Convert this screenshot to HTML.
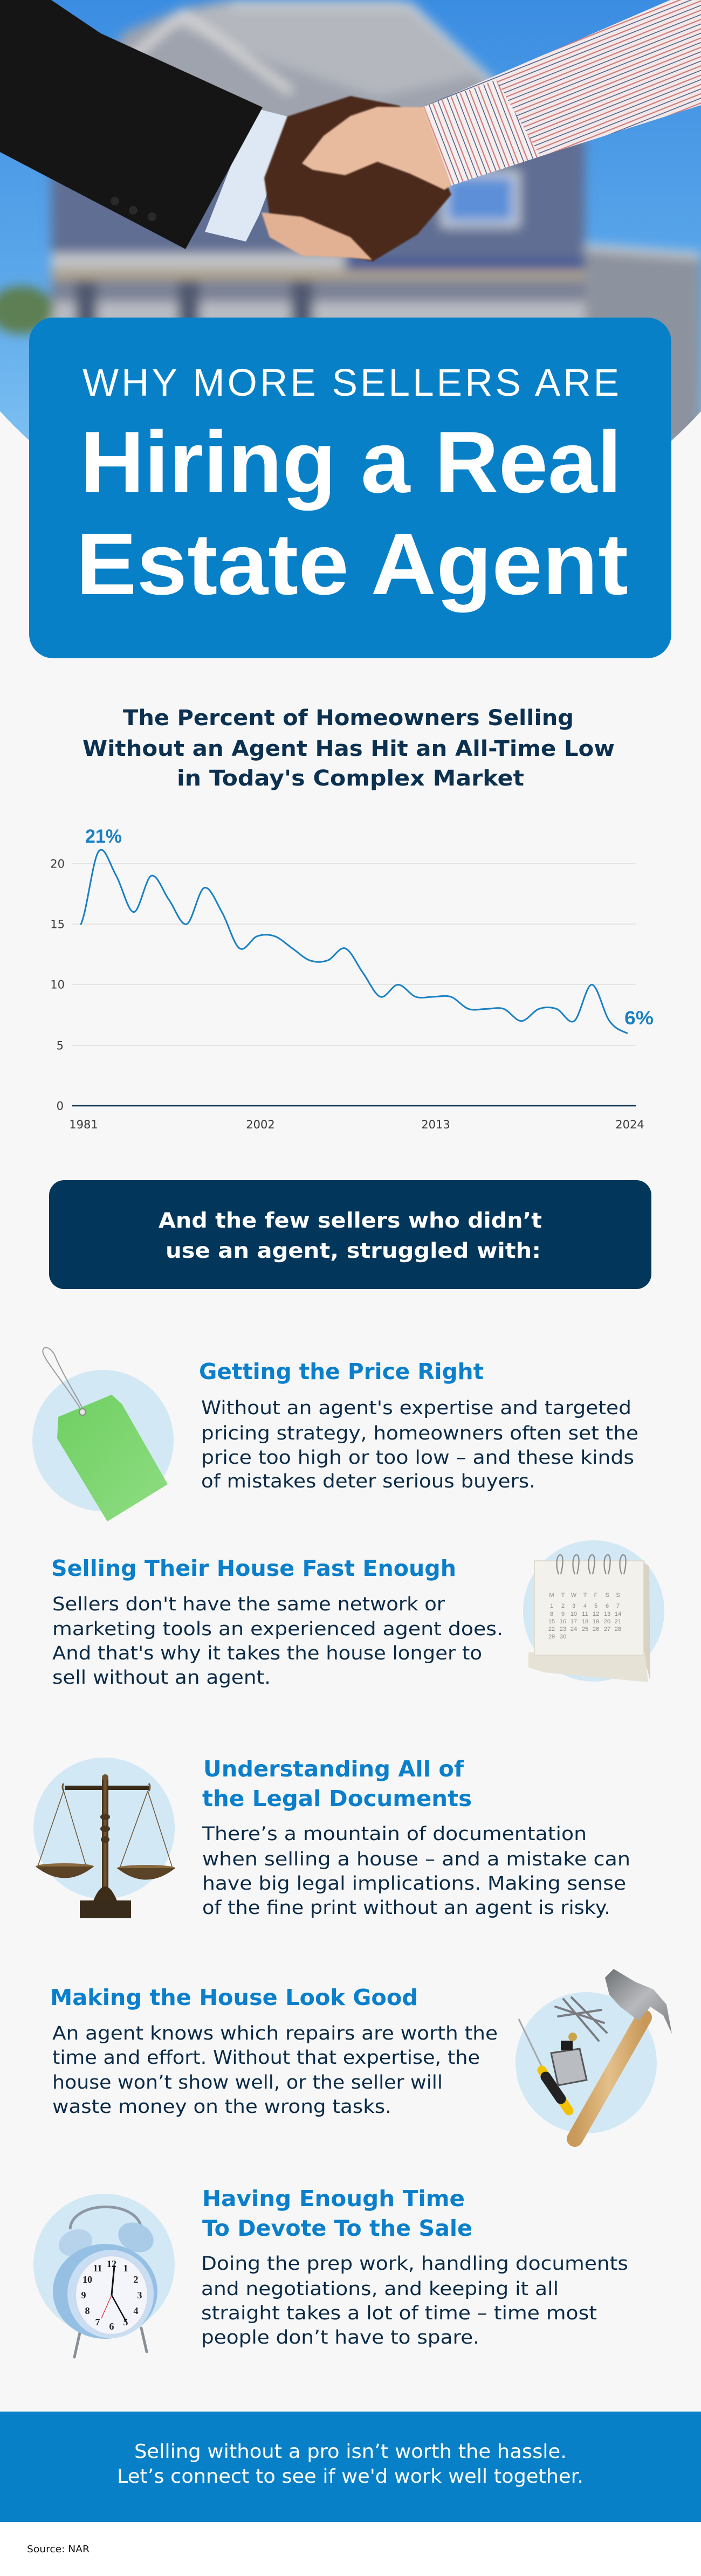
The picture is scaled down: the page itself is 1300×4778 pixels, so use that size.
<!DOCTYPE html>
<html>
<head>
<meta charset="utf-8">
<style>
html,body{margin:0;padding:0;background:#f7f7f7}
svg{display:block}
.h{font-family:"DejaVu Sans","Liberation Sans",sans-serif;font-weight:bold;font-size:41px;fill:#0a7fcb}
.b{font-family:"DejaVu Sans","Liberation Sans",sans-serif;font-size:34.5px;fill:#0b2b47}
.ct{font-family:"DejaVu Sans","Liberation Sans",sans-serif;font-weight:bold;font-size:40px;fill:#0c3150}
.ax{font-family:"DejaVu Sans","Liberation Sans",sans-serif;font-size:21px;fill:#3a3a3a}
.bn{font-family:"DejaVu Sans","Liberation Sans",sans-serif;font-weight:bold;font-size:39px;fill:#ffffff}
.ft{font-family:"DejaVu Sans","Liberation Sans",sans-serif;font-size:36px;fill:#ffffff}
.hero1{font-family:"Liberation Sans",sans-serif;font-size:71px;fill:#ffffff}
.hero2{font-family:"Liberation Sans",sans-serif;font-weight:bold;font-size:162px;fill:#ffffff}
.pct{font-family:"Liberation Sans",sans-serif;font-weight:bold;font-size:35px;fill:#1a80c4}
.cal{font-family:"Liberation Sans",sans-serif;font-size:11px;fill:#8a8a8a}
.clk{font-family:"Liberation Serif",serif;font-weight:bold;font-size:18px;fill:#222}
</style>
</head>
<body>
<svg width="1300" height="4778" viewBox="0 0 1300 4778" xmlns="http://www.w3.org/2000/svg">
<defs>
  <clipPath id="heroClip"><circle cx="650" cy="168" r="881"/></clipPath>
  <filter id="blur" x="-20%" y="-20%" width="140%" height="140%"><feGaussianBlur stdDeviation="10"/></filter>
  <filter id="soft" x="-10%" y="-10%" width="120%" height="120%"><feGaussianBlur stdDeviation="1.2"/></filter>
  <linearGradient id="sky" x1="0" y1="0" x2="0" y2="1">
    <stop offset="0" stop-color="#3b8de2"/>
    <stop offset="0.45" stop-color="#5aa6ea"/>
    <stop offset="0.75" stop-color="#7cc0f2"/>
    <stop offset="1" stop-color="#9bcdf0"/>
  </linearGradient>
  <pattern id="stripe" width="16" height="16" patternUnits="userSpaceOnUse" patternTransform="rotate(-21.7)">
    <rect width="16" height="16" fill="#f2e9e7"/>
    <rect y="1" width="16" height="2.2" fill="#d07a80"/>
    <rect y="9" width="16" height="1.6" fill="#4f5c8c"/>
  </pattern>
  <pattern id="stripe2" width="18" height="18" patternUnits="userSpaceOnUse" patternTransform="rotate(69)">
    <rect width="18" height="18" fill="#f4eeec"/>
    <rect y="2" width="18" height="2.2" fill="#d07a80"/>
    <rect y="10" width="18" height="1.6" fill="#4f5c8c"/>
  </pattern>
  <linearGradient id="tag" x1="0" y1="0" x2="1" y2="1">
    <stop offset="0" stop-color="#6fcf62"/>
    <stop offset="1" stop-color="#8fdd82"/>
  </linearGradient>
  <linearGradient id="wood" x1="0" y1="0" x2="1" y2="0">
    <stop offset="0" stop-color="#c9995a"/>
    <stop offset="0.5" stop-color="#e4c08a"/>
    <stop offset="1" stop-color="#c9995a"/>
  </linearGradient>
  <linearGradient id="metal" x1="0" y1="0" x2="1" y2="1">
    <stop offset="0" stop-color="#6d7073"/>
    <stop offset="0.5" stop-color="#b7b9bc"/>
    <stop offset="1" stop-color="#7d8083"/>
  </linearGradient>
  <linearGradient id="bronze" x1="0" y1="0" x2="1" y2="0">
    <stop offset="0" stop-color="#3a2a16"/>
    <stop offset="0.5" stop-color="#7a5c32"/>
    <stop offset="1" stop-color="#3a2a16"/>
  </linearGradient>
</defs>

<!-- page background -->
<rect x="0" y="0" width="1300" height="4778" fill="#f7f7f7"/>
<rect x="0" y="4678" width="1300" height="100" fill="#ffffff"/>

<!-- HERO PHOTO -->
<g clip-path="url(#heroClip)">
  <rect x="0" y="0" width="1300" height="1100" fill="url(#sky)"/>
  <g filter="url(#blur)">
    <!-- house mass / roof -->
    <polygon points="95,300 230,60 340,15 430,0 740,0 920,160 1085,207 1085,530 95,530" fill="#9ea3ad"/>
    <polygon points="300,40 430,0 740,0 880,140 700,180 520,120" fill="#b4b7be"/>
    <polyline points="170,170 340,25 540,170" fill="none" stroke="#d9d9d9" stroke-width="14"/>
    <polyline points="430,10 760,10 930,170" fill="none" stroke="#cfd0d3" stroke-width="12"/>
    <!-- slate facade -->
    <polygon points="95,290 650,275 1085,250 1085,490 95,490" fill="#616e93"/>
    <!-- window -->
    <rect x="824" y="323" width="133" height="92" fill="#5b8fd8" stroke="#c9d1dc" stroke-width="12"/>
    <!-- navy band -->
    <rect x="640" y="483" width="460" height="26" fill="#2c4c98"/>
    <!-- porch -->
    <rect x="95" y="470" width="545" height="26" fill="#c4c6cb"/>
    <rect x="95" y="500" width="1005" height="18" fill="#b3a68c"/>
    <rect x="95" y="518" width="1005" height="300" fill="#7b8296"/>
    <rect x="95" y="560" width="1005" height="260" fill="#b9bcc3"/>
    <rect x="140" y="520" width="40" height="100" fill="#4f5870"/>
    <rect x="330" y="520" width="40" height="100" fill="#4f5870"/>
    <rect x="540" y="520" width="40" height="100" fill="#4f5870"/>
    <!-- right annex -->
    <polygon points="1085,456 1300,470 1300,820 1085,820" fill="#8d939e"/>
    <polyline points="1085,458 1300,474" fill="none" stroke="#c9ccd2" stroke-width="12"/>
    <!-- tree -->
    <ellipse cx="40" cy="575" rx="60" ry="45" fill="#5d7f52"/>
  </g>
  <!-- striped sleeve -->
  <polygon points="783,199 1243,0 1300,0 1300,195 1002,290 837,344" fill="url(#stripe)"/>
  <polygon points="783,199 920,148 1002,290 837,344" fill="url(#stripe2)"/>
  <!-- cuff (white shirt) -->
  <polygon points="470,200 533,216 529,270 481,398 456,448 380,430" fill="#dde8f4"/>
  <!-- suit -->
  <polygon points="0,0 95,0 187,62 487,199 344,462 0,282" fill="#151515"/>
  <circle cx="213" cy="373" r="8" fill="#2a2a2a"/>
  <circle cx="247" cy="390" r="8" fill="#2a2a2a"/>
  <circle cx="282" cy="402" r="8" fill="#2a2a2a"/>
  <!-- dark hand -->
  <polygon points="533,216 650,178 740,196 787,240 837,361 774,435 691,485 620,470 500,400 490,330" fill="#4b2b1f" filter="url(#soft)"/>
  <!-- light hand (thumb/palm) -->
  <polygon points="560,303 600,252 650,215 700,198 787,199 837,344 824,352 760,322 700,300 640,325 580,315" fill="#e9bb9e" filter="url(#soft)"/>
  <!-- light fingers below -->
  <polygon points="485,394 560,402 650,440 690,482 650,478 560,474 500,440" fill="#e2b093" filter="url(#soft)"/>
</g>

<!-- HERO BOX -->
<rect x="54" y="589" width="1191" height="632" rx="45" ry="45" fill="#0880c8"/>
<text class="hero1" x="153" y="734" textLength="995" lengthAdjust="spacing">WHY MORE SELLERS ARE</text>
<text class="hero2" x="149" y="913" textLength="1004" lengthAdjust="spacingAndGlyphs">Hiring a Real</text>
<text class="hero2" x="141" y="1102" textLength="1024" lengthAdjust="spacingAndGlyphs">Estate Agent</text>

<!-- CHART TITLE -->
<text class="ct" x="228" y="1345" textLength="836" lengthAdjust="spacingAndGlyphs">The Percent of Homeowners Selling</text>
<text class="ct" x="153" y="1402" textLength="987" lengthAdjust="spacingAndGlyphs">Without an Agent Has Hit an All-Time Low</text>
<text class="ct" x="328" y="1457" textLength="644" lengthAdjust="spacingAndGlyphs">in Today's Complex Market</text>

<!-- CHART -->
<g stroke="#dedede" stroke-width="1.5">
  <line x1="134" y1="1602" x2="1179" y2="1602"/>
  <line x1="134" y1="1714" x2="1179" y2="1714"/>
  <line x1="134" y1="1826" x2="1179" y2="1826"/>
  <line x1="134" y1="1939" x2="1179" y2="1939"/>
</g>
<line x1="134" y1="2051" x2="1179" y2="2051" stroke="#0d3252" stroke-width="2.5"/>
<text class="ax" x="120" y="1609.5" text-anchor="end">20</text>
<text class="ax" x="120" y="1721.5" text-anchor="end">15</text>
<text class="ax" x="120" y="1833.5" text-anchor="end">10</text>
<text class="ax" x="118" y="1946.5" text-anchor="end">5</text>
<text class="ax" x="118" y="2058.5" text-anchor="end">0</text>
<text class="ax" x="155" y="2093" text-anchor="middle">1981</text>
<text class="ax" x="483" y="2093" text-anchor="middle">2002</text>
<text class="ax" x="808" y="2093" text-anchor="middle">2013</text>
<text class="ax" x="1168" y="2093" text-anchor="middle">2024</text>
<g transform="translate(150.1,2051) scale(32.67,-22.46)">
  <path fill="none" stroke="#1a80c4" stroke-width="3" vector-effect="non-scaling-stroke" stroke-linecap="round" stroke-linejoin="round"
  d="M0,15 C0.333,16 0.667,20.333 1,21 C1.333,21.667 1.667,19.833 2,19 C2.333,18.167 2.667,16 3,16 C3.333,16 3.667,18.833 4,19 C4.333,19.167 4.667,17.667 5,17 C5.333,16.333 5.667,14.833 6,15 C6.333,15.167 6.667,17.833 7,18 C7.333,18.167 7.667,16.833 8,16 C8.333,15.167 8.667,13.333 9,13 C9.333,12.667 9.667,13.833 10,14 C10.333,14.167 10.667,14.167 11,14 C11.333,13.833 11.667,13.333 12,13 C12.333,12.667 12.667,12.167 13,12 C13.333,11.833 13.667,11.833 14,12 C14.333,12.167 14.667,13.167 15,13 C15.333,12.833 15.667,11.667 16,11 C16.333,10.333 16.667,9.167 17,9 C17.333,8.833 17.667,10 18,10 C18.333,10 18.667,9.167 19,9 C19.333,8.833 19.667,9 20,9 C20.333,9 20.667,9.167 21,9 C21.333,8.833 21.667,8.167 22,8 C22.333,7.833 22.667,8 23,8 C23.333,8 23.667,8.167 24,8 C24.333,7.833 24.667,7 25,7 C25.333,7 25.667,7.833 26,8 C26.333,8.167 26.667,8.167 27,8 C27.333,7.833 27.667,6.667 28,7 C28.333,7.333 28.667,10 29,10 C29.333,10 29.667,7.667 30,7 C30.333,6.333 30.667,6.2 31,6"/>
</g>
<text class="pct" x="158" y="1563" textLength="68" lengthAdjust="spacingAndGlyphs">21%</text>
<text class="pct" x="1158" y="1900" textLength="54" lengthAdjust="spacingAndGlyphs">6%</text>

<!-- DARK BANNER -->
<rect x="91" y="2189" width="1117" height="202" rx="28" ry="28" fill="#02365a"/>
<text class="bn" x="294" y="2277" textLength="711" lengthAdjust="spacingAndGlyphs">And the few sellers who didn’t</text>
<text class="bn" x="307" y="2333" textLength="696" lengthAdjust="spacingAndGlyphs">use an agent, struggled with:</text>

<!-- SECTION 1: tag -->
<circle cx="191" cy="2672" r="131" fill="#d3e8f5"/>
<path d="M153,2619 C130,2580 84,2525 80,2510 C76,2495 94,2496 102,2515 C118,2552 142,2590 153,2612" fill="none" stroke="#9a9a9a" stroke-width="2"/>
<polygon points="106,2668 108,2628 207,2587 226,2604 311,2753 199,2822" fill="url(#tag)"/>
<circle cx="153" cy="2619" r="6" fill="#e6e6e6" stroke="#888" stroke-width="2"/>
<text class="h" x="369" y="2558" textLength="528" lengthAdjust="spacingAndGlyphs">Getting the Price Right</text>
<text class="b" x="373" y="2623" textLength="798" lengthAdjust="spacingAndGlyphs">Without an agent's expertise and targeted</text>
<text class="b" x="373" y="2670" textLength="811" lengthAdjust="spacingAndGlyphs">pricing strategy, homeowners often set the</text>
<text class="b" x="373" y="2715" textLength="803" lengthAdjust="spacingAndGlyphs">price too high or too low – and these kinds</text>
<text class="b" x="373" y="2759" textLength="620" lengthAdjust="spacingAndGlyphs">of mistakes deter serious buyers.</text>

<!-- SECTION 2: calendar -->
<circle cx="1101" cy="2988" r="131" fill="#d3e8f5"/>
<polygon points="1190,2897 1204,2905 1206,3118 1194,3072" fill="#d8d2c4"/>
<polygon points="980,3065 1196,3065 1202,3120 1010,3102 980,3093" fill="#e7e2d6"/>
<rect x="991" y="2895" width="203" height="175" fill="#f3f1ec" stroke="#e0dbd0" stroke-width="2"/>
<g fill="none" stroke="#8a8a8a" stroke-width="2.2">
  <path d="M1036,2920 C1030,2905 1032,2884 1039,2884 C1046,2884 1044,2905 1040,2920"/>
  <path d="M1066,2920 C1060,2905 1062,2884 1069,2884 C1076,2884 1074,2905 1070,2920"/>
  <path d="M1095,2920 C1089,2905 1091,2884 1098,2884 C1105,2884 1103,2905 1099,2920"/>
  <path d="M1124,2920 C1118,2905 1120,2884 1127,2884 C1134,2884 1132,2905 1128,2920"/>
  <path d="M1153,2920 C1147,2905 1149,2884 1156,2884 C1163,2884 1161,2905 1157,2920"/>
</g>
<g class="cal" text-anchor="middle">
  <text x="1023" y="2962">M</text><text x="1044" y="2962">T</text><text x="1064" y="2962">W</text><text x="1085" y="2962">T</text><text x="1105" y="2962">F</text><text x="1126" y="2962">S</text><text x="1146" y="2962">S</text>
  <text x="1023" y="2982">1</text><text x="1044" y="2982">2</text><text x="1064" y="2982">3</text><text x="1085" y="2982">4</text><text x="1105" y="2982">5</text><text x="1126" y="2982">6</text><text x="1146" y="2982">7</text>
  <text x="1023" y="2997">8</text><text x="1044" y="2997">9</text><text x="1064" y="2997">10</text><text x="1085" y="2997">11</text><text x="1105" y="2997">12</text><text x="1126" y="2997">13</text><text x="1146" y="2997">14</text>
  <text x="1023" y="3011">15</text><text x="1044" y="3011">16</text><text x="1064" y="3011">17</text><text x="1085" y="3011">18</text><text x="1105" y="3011">19</text><text x="1126" y="3011">20</text><text x="1146" y="3011">21</text>
  <text x="1023" y="3025">22</text><text x="1044" y="3025">23</text><text x="1064" y="3025">24</text><text x="1085" y="3025">25</text><text x="1105" y="3025">26</text><text x="1126" y="3025">27</text><text x="1146" y="3025">28</text>
  <text x="1023" y="3039">29</text><text x="1044" y="3039">30</text>
</g>
<text class="h" x="95" y="2923" textLength="751" lengthAdjust="spacingAndGlyphs">Selling Their House Fast Enough</text>
<text class="b" x="97" y="2987" textLength="728" lengthAdjust="spacingAndGlyphs">Sellers don't have the same network or</text>
<text class="b" x="97" y="3033" textLength="836" lengthAdjust="spacingAndGlyphs">marketing tools an experienced agent does.</text>
<text class="b" x="97" y="3078" textLength="797" lengthAdjust="spacingAndGlyphs">And that's why it takes the house longer to</text>
<text class="b" x="97" y="3123" textLength="405" lengthAdjust="spacingAndGlyphs">sell without an agent.</text>

<!-- SECTION 3: scales -->
<circle cx="193" cy="3391" r="131" fill="#d3e8f5"/>
<g stroke="#6b5535" stroke-width="1.5" fill="none">
  <line x1="118" y1="3322" x2="70" y2="3462"/>
  <line x1="118" y1="3322" x2="160" y2="3462"/>
  <line x1="274" y1="3322" x2="222" y2="3465"/>
  <line x1="274" y1="3322" x2="320" y2="3465"/>
</g>
<rect x="120" y="3312" width="156" height="8" fill="#3a2a18"/>
<path d="M118,3322 q-4,-8 0,-14" stroke="#6b5535" stroke-width="3" fill="none"/>
<path d="M276,3322 q4,-8 0,-14" stroke="#6b5535" stroke-width="3" fill="none"/>
<rect x="189" y="3300" width="12" height="228" fill="url(#bronze)"/>
<ellipse cx="195" cy="3370" rx="9" ry="6" fill="#4a3620"/>
<ellipse cx="195" cy="3392" rx="9" ry="6" fill="#4a3620"/>
<ellipse cx="195" cy="3412" rx="8" ry="6" fill="#4a3620"/>
<circle cx="195" cy="3297" r="6" fill="#6b5230"/>
<path d="M172,3528 Q195,3470 218,3528 Z" fill="#3d2c18"/>
<rect x="148" y="3525" width="95" height="33" fill="#3a2c1c"/>
<ellipse cx="120" cy="3462" rx="54" ry="6" fill="#8a6a40"/>
<path d="M66,3462 Q120,3505 174,3462 Z" fill="#5a4326"/>
<ellipse cx="271" cy="3465" rx="54" ry="6" fill="#8a6a40"/>
<path d="M217,3465 Q271,3508 325,3465 Z" fill="#5a4326"/>
<text class="h" x="377" y="3295" textLength="483" lengthAdjust="spacingAndGlyphs">Understanding All of</text>
<text class="h" x="375" y="3350" textLength="500" lengthAdjust="spacingAndGlyphs">the Legal Documents</text>
<text class="b" x="375" y="3413" textLength="713" lengthAdjust="spacingAndGlyphs">There’s a mountain of documentation</text>
<text class="b" x="375" y="3460" textLength="794" lengthAdjust="spacingAndGlyphs">when selling a house – and a mistake can</text>
<text class="b" x="375" y="3505" textLength="786" lengthAdjust="spacingAndGlyphs">have big legal implications. Making sense</text>
<text class="b" x="375" y="3550" textLength="757" lengthAdjust="spacingAndGlyphs">of the fine print without an agent is risky.</text>

<!-- SECTION 4: tools -->
<circle cx="1087" cy="3826" r="131" fill="#d3e8f5"/>
<g stroke="#7a7c80" stroke-width="4" stroke-linecap="round">
  <line x1="1030" y1="3722" x2="1120" y2="3752"/>
  <line x1="1045" y1="3708" x2="1110" y2="3785"/>
  <line x1="1060" y1="3705" x2="1125" y2="3770"/>
  <line x1="1035" y1="3740" x2="1115" y2="3728"/>
</g>
<line x1="962" y1="3745" x2="1007" y2="3838" stroke="#a5a7aa" stroke-width="3"/>
<line x1="1005" y1="3840" x2="1055" y2="3915" stroke="#f2c200" stroke-width="17" stroke-linecap="round"/>
<line x1="1012" y1="3852" x2="1040" y2="3893" stroke="#222" stroke-width="19" stroke-linecap="round"/>
<polygon points="1022,3808 1075,3800 1088,3858 1035,3868" fill="#b9bcc0" stroke="#555" stroke-width="3"/>
<rect x="1040" y="3785" width="22" height="18" fill="#1e1e1e"/>
<circle cx="1062" cy="3778" r="8" fill="#c9a64a"/>
<line x1="1194" y1="3742" x2="1066" y2="3967" stroke="url(#wood)" stroke-width="30" stroke-linecap="round"/>
<polygon points="1122,3668 1138,3652 1178,3676 1212,3690 1236,3718 1246,3772 1230,3738 1206,3722 1184,3748 1150,3722 1130,3700" fill="url(#metal)"/>
<text class="h" x="93" y="3719" textLength="682" lengthAdjust="spacingAndGlyphs">Making the House Look Good</text>
<text class="b" x="97" y="3783" textLength="826" lengthAdjust="spacingAndGlyphs">An agent knows which repairs are worth the</text>
<text class="b" x="97" y="3828" textLength="793" lengthAdjust="spacingAndGlyphs">time and effort. Without that expertise, the</text>
<text class="b" x="97" y="3874" textLength="724" lengthAdjust="spacingAndGlyphs">house won’t show well, or the seller will</text>
<text class="b" x="97" y="3919" textLength="629" lengthAdjust="spacingAndGlyphs">waste money on the wrong tasks.</text>

<!-- SECTION 5: clock -->
<circle cx="193" cy="4200" r="131" fill="#d3e8f5"/>
<path d="M130,4135 C132,4082 252,4078 262,4132" fill="none" stroke="#8d97a3" stroke-width="5"/>
<line x1="150" y1="4318" x2="138" y2="4372" stroke="#8a8f95" stroke-width="5" stroke-linecap="round"/>
<line x1="262" y1="4318" x2="272" y2="4362" stroke="#8a8f95" stroke-width="5" stroke-linecap="round"/>
<ellipse cx="140" cy="4160" rx="32" ry="24" transform="rotate(-20 140 4160)" fill="#b7d3ec"/>
<ellipse cx="252" cy="4150" rx="34" ry="26" transform="rotate(25 252 4150)" fill="#a9cbe8"/>
<ellipse cx="195" cy="4250" rx="97" ry="88" fill="#96bfe4"/>
<ellipse cx="205" cy="4255" rx="80" ry="82" fill="#c9def2"/>
<ellipse cx="207" cy="4257" rx="67" ry="73" fill="#f4f5fb" stroke="#cfd9e8" stroke-width="2"/>
<g class="clk" text-anchor="middle">
  <text x="207" y="4205">12</text><text x="233" y="4213">1</text><text x="252" y="4234">2</text><text x="259" y="4263">3</text>
  <text x="252" y="4292">4</text><text x="233" y="4313">5</text><text x="207" y="4321">6</text><text x="181" y="4313">7</text>
  <text x="162" y="4292">8</text><text x="155" y="4263">9</text><text x="162" y="4234">10</text><text x="181" y="4213">11</text>
</g>
<line x1="207" y1="4257" x2="212" y2="4203" stroke="#111" stroke-width="3" stroke-linecap="round"/>
<line x1="207" y1="4257" x2="234" y2="4306" stroke="#111" stroke-width="2.5" stroke-linecap="round"/>
<line x1="207" y1="4257" x2="188" y2="4300" stroke="#d22" stroke-width="1.2"/>
<text class="h" x="375" y="4092" textLength="487" lengthAdjust="spacingAndGlyphs">Having Enough Time</text>
<text class="h" x="375" y="4147" textLength="501" lengthAdjust="spacingAndGlyphs">To Devote To the Sale</text>
<text class="b" x="373" y="4210" textLength="792" lengthAdjust="spacingAndGlyphs">Doing the prep work, handling documents</text>
<text class="b" x="373" y="4257" textLength="663" lengthAdjust="spacingAndGlyphs">and negotiations, and keeping it all</text>
<text class="b" x="373" y="4302" textLength="734" lengthAdjust="spacingAndGlyphs">straight takes a lot of time – time most</text>
<text class="b" x="373" y="4347" textLength="516" lengthAdjust="spacingAndGlyphs">people don’t have to spare.</text>

<!-- FOOTER -->
<rect x="0" y="4473" width="1300" height="205" fill="#0880c8"/>
<text class="ft" x="249" y="4559" textLength="802" lengthAdjust="spacingAndGlyphs">Selling without a pro isn’t worth the hassle.</text>
<text class="ft" x="217" y="4605" textLength="865" lengthAdjust="spacingAndGlyphs">Let’s connect to see if we'd work well together.</text>
<text x="50" y="4734" textLength="116" lengthAdjust="spacingAndGlyphs" style="font-family:'DejaVu Sans','Liberation Sans',sans-serif;font-size:18px;fill:#111">Source: NAR</text>
</svg>
</body>
</html>
